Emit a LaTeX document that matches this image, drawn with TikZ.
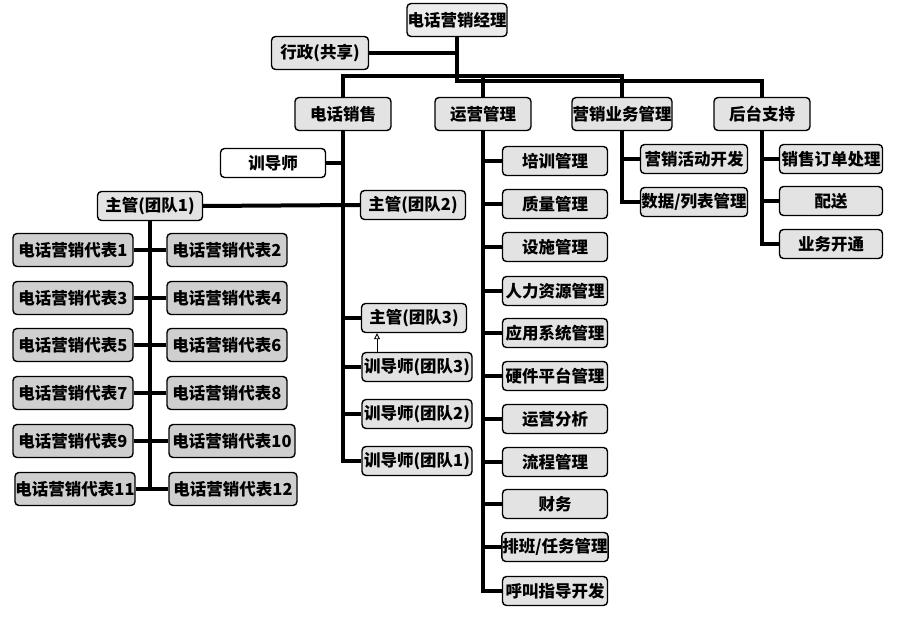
\documentclass[tikz,border=0pt]{standalone}
\usepackage{fontspec}
\setmainfont{Noto Sans CJK SC}
\usetikzlibrary{arrows.meta}
\tikzset{
  box/.style={draw, line width=1.4pt, rounded corners=4pt, fill=gray!22, inner sep=0.5pt,
    minimum height=29pt, minimum width=105pt, font=\fontsize{16.5}{18}\selectfont\bfseries, text=black},
  topbox/.style={box, minimum height=33pt},
  repbox/.style={box, fill=gray!38, minimum height=33pt, minimum width=120pt},
  conn/.style={line width=4pt, draw=black},
  tip/.style={line width=0.9pt, -{Triangle[open, length=6pt, width=6pt]}}
}
\begin{document}
\begin{tikzpicture}[x=1pt,y=-1pt]
\fill[white] (0,0) rectangle (900,617);
\useasboundingbox (0,0) rectangle (900,617);
% top
\node[topbox, minimum width=97pt, fill=gray!15] (mgr) at (457,20) {电话营销经理};
\node[topbox, minimum width=97pt] (admin) at (320,53) {行政(共享)};
% level 1
\node[topbox, minimum width=96pt] (sales) at (343,114) {电话销售};
\node[topbox, minimum width=96pt] (ops) at (483,114) {运营管理};
\node[topbox, minimum width=97pt] (mkt) at (622,114) {营销业务管理};
\node[topbox, minimum width=96pt] (back) at (762,114) {后台支持};
\coordinate (busA) at (0,76);
\coordinate (busB) at (0,81);
\draw[conn] (admin.east) -- (admin.east -| mgr.south);
\draw[conn] (mgr.south) -- (mgr.south |- busB) -- (back.north |- busB) -- (back.north);
\draw[conn] (sales.north) -- (sales.north |- busA) -- (mkt.north |- busA) -- (mkt.north);
\draw[conn] (ops.north) -- (ops.north |- busA);
% sales branch
\node[box, fill=white] (trainer) at (273,163) {训导师};
\node[box] (sup1) at (150,206) {主管(团队1)};
\node[box] (sup2) at (413,205) {主管(团队2)};
\node[box] (sup3) at (414,318) {主管(团队3)};
\node[box, minimum width=110pt] (tr3) at (417,367) {训导师(团队3)};
\node[box, minimum width=110pt] (tr2) at (417,414) {训导师(团队2)};
\node[box, minimum width=110pt] (tr1) at (417,461) {训导师(团队1)};
\draw[conn] (sales.south) -- (sales.south |- tr1.west) -- (tr1.west);
\draw[conn] (trainer.east) -- (trainer.east -| sales.south);
\draw[conn] (sup1.east) -- (sup2.west);
\draw[conn] (sup3.west -| sales.south) -- (sup3.west);
\draw[conn] (tr3.west -| sales.south) -- (tr3.west);
\draw[conn] (tr2.west -| sales.south) -- (tr2.west);
\coordinate (ax) at (377,0);
\draw[tip] (tr3.north -| ax) -- (sup3.south -| ax);
% reps
\node[repbox] (r1) at (73,250) {电话营销代表1};
\node[repbox] (r2) at (227,250) {电话营销代表2};
\node[repbox] (r3) at (73,298) {电话营销代表3};
\node[repbox] (r4) at (227,298) {电话营销代表4};
\node[repbox] (r5) at (73,345) {电话营销代表5};
\node[repbox] (r6) at (227,345) {电话营销代表6};
\node[repbox] (r7) at (73,393) {电话营销代表7};
\node[repbox] (r8) at (227,393) {电话营销代表8};
\node[repbox] (r9) at (73,441) {电话营销代表9};
\node[repbox, minimum width=126pt] (r10) at (232,441) {电话营销代表10};
\node[repbox] (r11) at (75,489) {电话营销代表11};
\node[repbox, minimum width=128pt] (r12) at (233,489) {电话营销代表12};
\draw[conn] (sup1.south) -- (sup1.south |- r11.east);
\foreach \a/\b in {r1/r2,r3/r4,r5/r6,r7/r8,r9/r10,r11/r12}
  \draw[conn] (\a.east) -- (\b.west);
% operations
\foreach \n/\y/\t in {o1/161/{培训管理}, o2/204/{质量管理}, o3/247/{设施管理}, o4/291/{人力资源管理},
  o5/333/{应用系统管理}, o6/376/{硬件平台管理}, o7/419/{运营分析}, o8/462/{流程管理},
  o9/504/{财务}, o10/547/{排班/任务管理}, o11/591/{呼叫指导开发}}
  \node[box] (\n) at (555,\y) {\t};
\draw[conn] (ops.south) -- (ops.south |- o11.west) -- (o11.west);
\foreach \n in {o1,o2,o3,o4,o5,o6,o7,o8,o9,o10}
  \draw[conn] (\n.west -| ops.south) -- (\n.west);
% marketing
\node[box, minimum width=107pt] (m1) at (694,159) {营销活动开发};
\node[box, minimum width=107pt] (m2) at (694,202) {数据/列表管理};
\draw[conn] (mkt.south) -- (mkt.south |- m2.west) -- (m2.west);
\draw[conn] (m1.west -| mkt.south) -- (m1.west);
% back office
\node[box, minimum width=103pt] (k1) at (831,159) {销售订单处理};
\node[box, minimum width=103pt] (k2) at (831,201) {配送};
\node[box, minimum width=103pt] (k3) at (831,244) {业务开通};
\draw[conn] (back.south) -- (back.south |- k3.west) -- (k3.west);
\draw[conn] (k1.west -| back.south) -- (k1.west);
\draw[conn] (k2.west -| back.south) -- (k2.west);
\end{tikzpicture}
\end{document}
